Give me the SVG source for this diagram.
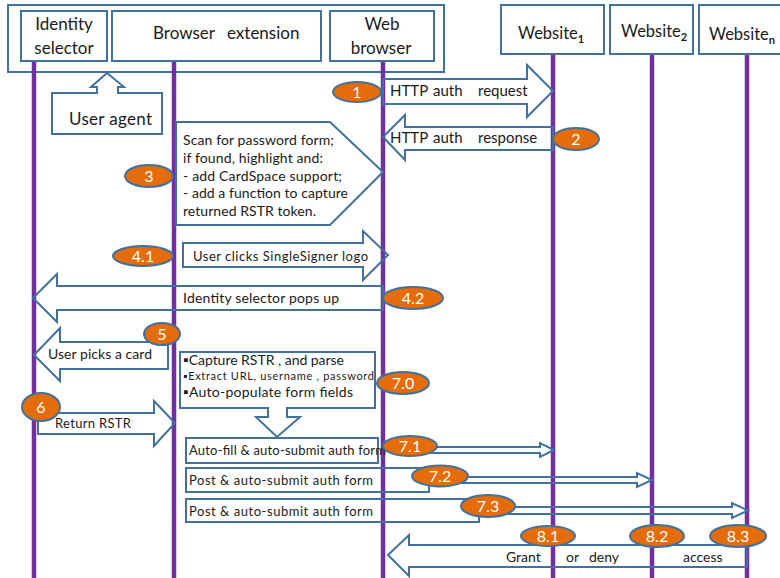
<svg xmlns="http://www.w3.org/2000/svg" width="780" height="578" viewBox="0 0 780 578">
<style>
text{font-family:Lato,"Open Sans","Liberation Sans",sans-serif;fill:#1a1a1a}
.box{fill:#fff;stroke:#41719c;stroke-width:2}
.sh{fill:none;stroke:#41719c;stroke-width:2}
.life{stroke:#7030a0;stroke-width:4.5}
.num{fill:#e46c0a;stroke:#41719c;stroke-width:2}
.nt{fill:#fff;font-size:16px;text-anchor:middle}
.hd{font-size:17px;text-anchor:middle}
.t14{font-size:14px}
.t13{font-size:13px}
</style>
<rect width="780" height="578" fill="#fff"/>

<g id="user-agent-container">
<rect x="8" y="5" width="436" height="67" class="sh"/>
</g>

<g id="identity-selector">
<rect x="21" y="11" width="86" height="50" class="box"/>
<text class="hd" x="64" y="30">Identity</text>
<text class="hd" x="64" y="54">selector</text>
</g>
<g id="browser-extension">
<rect x="112" y="11" width="209" height="50" class="box"/>
<text style="font-size:17px" y="39"><tspan x="153">Browser</tspan><tspan x="227">extension</tspan></text>
</g>
<g id="web-browser">
<rect x="330" y="11" width="104" height="50" class="box"/>
<text class="hd" x="382" y="30">Web</text>
<text class="hd" x="381" y="54">browser</text>
</g>
<g id="website1">
<rect x="501" y="5" width="103" height="49" class="box"/>
<text style="font-size:16.5px" x="518" y="39">Website<tspan style="font-size:11px;font-weight:bold" dy="4">1</tspan></text>
</g>
<g id="website2">
<rect x="610" y="5" width="83" height="49" class="box"/>
<text style="font-size:16.5px" x="621" y="37">Website<tspan style="font-size:11px;font-weight:bold" dy="4">2</tspan></text>
</g>
<g id="websiten">
<rect x="699" y="5" width="90" height="49" class="box"/>
<text style="font-size:16.5px" x="709" y="40">Website<tspan style="font-size:11px;font-weight:bold" dy="4">n</tspan></text>
</g>

<g id="lifelines">
<line class="life" x1="34" y1="62" x2="34" y2="578"/>
<line class="life" x1="174" y1="62" x2="174" y2="578"/>
<line class="life" x1="383" y1="62" x2="383" y2="578"/>
<line class="life" x1="553" y1="55" x2="553" y2="578"/>
<line class="life" x1="652" y1="55" x2="652" y2="578"/>
<line class="life" x1="747" y1="55" x2="747" y2="578"/>
</g>

<g id="user-agent">
<path class="box" d="M52,93 H97 V87 H91 L107,73 L124,87 H118 V93 H162 V134 H52 Z"/>
<text style="font-size:17px" x="69" y="125" textLength="83">User agent</text>
</g>

<g id="connectors">
<g id="m1">
<path class="sh" d="M383,79 H527 V65 L553,91 L527,117 V104 H383 Z"/>
<text style="font-size:15px" y="96"><tspan x="390">HTTP</tspan><tspan x="433">auth</tspan><tspan x="478">request</tspan></text>
</g>
<g id="m2">
<path class="sh" d="M383,137 L405,115 V127 H553 V150 H405 V160 Z"/>
<text style="font-size:15px" y="143"><tspan x="390">HTTP</tspan><tspan x="433">auth</tspan><tspan x="478">response</tspan></text>
</g>
<g id="m3">
<path class="sh" d="M176,122 H330 L383,172 L330,225 H176 Z"/>
<text class="t14" x="183" y="145" textLength="151">Scan for password form;</text>
<text class="t14" x="183" y="163" textLength="140">if found, highlight and:</text>
<text class="t14" x="183" y="181" textLength="159">- add CardSpace support;</text>
<text class="t14" x="183" y="198" textLength="165">- add a function to capture</text>
<text class="t14" x="183" y="216" textLength="133">returned RSTR token.</text>
</g>
<g id="m41">
<path class="sh" d="M183,243 H363 V231 L388,255 L363,280 V267 H183 Z"/>
<text class="t13" x="193" y="261" textLength="175">User clicks SingleSigner logo</text>
</g>
<g id="m42">
<path class="sh" d="M33,298 L57,274 V286 H383 V310 H57 V322 Z"/>
<text class="t14" x="183" y="303" textLength="156">Identity selector pops up</text>
</g>
<g id="m5">
<path class="sh" d="M34,355 L60,328 V342 H168 V369 H60 V381 Z"/>
<text class="t14" x="48" y="359" textLength="104">User picks a card</text>
</g>
<g id="m6">
<path class="sh" d="M38,413 H154 V401 L175,423 L154,446 V434 H38 Z"/>
<text class="t13" x="55" y="428" textLength="76">Return RSTR</text>
</g>
<g id="m70">
<path class="box" d="M180,352 H375 V408 H287 V417 H300 L277,437 L256,417 H268 V408 H180 Z"/>
<text class="t14" x="183" y="365" textLength="161">▪Capture RSTR , and parse</text>
<text style="font-size:11px" x="183" y="380" textLength="191">▪Extract  URL, username , password</text>
<text class="t14" x="183" y="397" textLength="170">▪Auto-populate form fields</text>
</g>
<g id="m71">
<rect class="sh" x="186" y="438" width="192" height="25"/>
<text class="t13" x="189" y="455" textLength="197">Auto-fill &amp; auto-submit auth form</text>
<path class="sh" d="M420,447 H540 V443 L554,450 L540,457 V453 H420"/>
</g>
<g id="m72">
<rect class="sh" x="186" y="468" width="243" height="24"/>
<text class="t13" x="189" y="485" textLength="184">Post &amp; auto-submit auth form</text>
<path class="sh" d="M450,477 H637 V473 L652,480 L637,487 V483 H450"/>
</g>
<g id="m73">
<rect class="sh" x="186" y="499" width="293" height="23"/>
<text class="t13" x="189" y="516" textLength="184">Post &amp; auto-submit auth form</text>
<path class="sh" d="M500,507 H732 V503 L748,510.5 L732,518 V514 H500"/>
</g>
<g id="m8">
<path class="sh" d="M388,555 L409,535 V545 H747 V567 H409 V576 Z"/>
<text class="t14" y="562"><tspan x="506">Grant</tspan><tspan x="566">or</tspan><tspan x="589">deny</tspan><tspan x="683">access</tspan></text>
</g>
</g>

<g id="step-labels">
<ellipse class="num" cx="357" cy="92" rx="24" ry="10"/><text class="nt" x="357" y="97.5">1</text>
<ellipse class="num" cx="576" cy="139" rx="23" ry="11"/><text class="nt" x="576" y="144.5">2</text>
<ellipse class="num" cx="149" cy="176" rx="24" ry="11"/><text class="nt" x="149" y="181.5">3</text>
<ellipse class="num" cx="143" cy="256" rx="30" ry="10"/><text class="nt" x="143" y="261.5">4.1</text>
<ellipse class="num" cx="413" cy="298" rx="30" ry="11"/><text class="nt" x="413" y="303.5">4.2</text>
<ellipse class="num" cx="162" cy="334" rx="18" ry="11"/><text class="nt" x="162" y="339.5">5</text>
<ellipse class="num" cx="41" cy="407" rx="19" ry="14"/><text class="nt" x="41" y="412.5">6</text>
<ellipse class="num" cx="403" cy="383" rx="26" ry="11"/><text class="nt" x="403" y="388.5">7.0</text>
<ellipse class="num" cx="410" cy="446" rx="27" ry="10"/><text class="nt" x="410" y="451.5">7.1</text>
<ellipse class="num" cx="440" cy="476" rx="28" ry="10.5"/><text class="nt" x="440" y="481.5">7.2</text>
<ellipse class="num" cx="488" cy="506" rx="27" ry="11"/><text class="nt" x="488" y="511.5">7.3</text>
<ellipse class="num" cx="548" cy="536" rx="27" ry="10"/><text class="nt" x="548" y="541.5">8.1</text>
<ellipse class="num" cx="657" cy="536" rx="27" ry="11"/><text class="nt" x="657" y="541.5">8.2</text>
<ellipse class="num" cx="738" cy="536" rx="28" ry="11"/><text class="nt" x="738" y="541.5">8.3</text>
</g>
</svg>
